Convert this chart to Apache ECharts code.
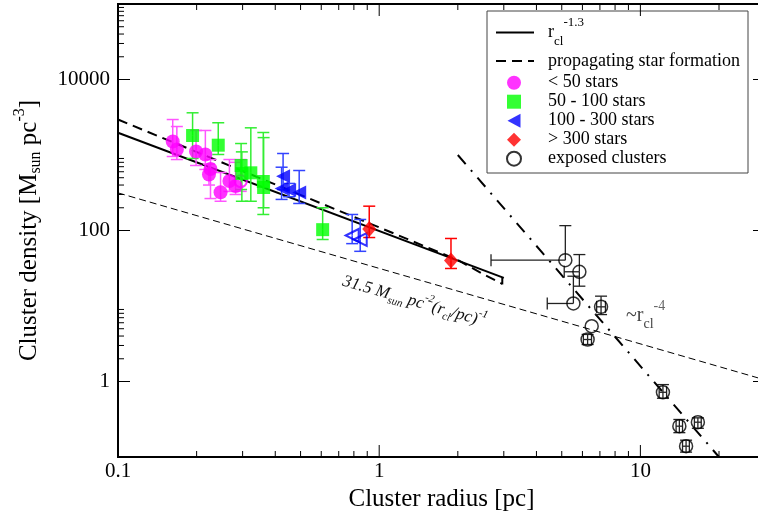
<!DOCTYPE html>
<html><head><meta charset="utf-8">
<script src="https://cdn.jsdelivr.net/npm/echarts@6/dist/echarts.min.js"></script>
<style>html,body{margin:0;padding:0;background:#fff}#c{width:758px;height:513px}</style>
</head><body><div id="c"></div>
<script>
// ---------------- data ----------------
const xRange = [0.1, 30];
const yRange = [0.1, 100000];
const xTickLabels = [0.1, 1, 10];
const yTickLabels = [1, 100, 10000];
const xMinorTicks = [0.2,0.3,0.4,0.5,0.6,0.7,0.8,0.9,2,3,4,5,6,7,8,9,20,30];
const yMinorTicks = [2,3,4,5,6,7,8,9,200,300,400,500,600,700,800,900,20000,30000,40000,50000,60000,70000,80000,90000];

// [radius pc, density, density low, density high]
const starsLt50 = [
  [0.162,1510,955,2950],[0.168,1183,871,2383],[0.199,1112,726,2113],[0.216,1016,643,2113],
  [0.226,653,265,871],[0.223,552,400,760],[0.247,321,244,586],[0.267,453,329,871],[0.282,388,300,800]
];
const starsLt50Open = [[0.295,450,330,871]];
const stars50to100 = [
  [0.193,1812,900,3622],[0.242,1349,1016,2673],[0.296,726,349,1419],[0.298,569,244,1100],
  [0.3225,581,244,2291],[0.36,446,163,1986],[0.361,371,200,1700],[0.6075,102.6,76,200]
];
const stars100to300 = [[0.4286,524,349,1047],[0.423,360,258,689],[0.452,344,280,420],[0.494,318,228,623]];
const stars100to300Open = [[0.788,85.9,67,163],[0.846,76,53,140]];
const starsGt300 = [[0.916,105,80.7,210],[1.883,40,31.4,78.4]];
// [radius, density, radius low, radius high, density low, density high]
const exposedClusters = [
  [5.16,40.5,2.68,5.16,40.5,116],[5.84,28.4,5.11,5.84,18.3,48],[5.54,10.8,4.4,5.54,10.8,24.8],
  [7.07,9.75,6.8,7.35,7.7,13.5],[6.51,5.4,6.51,6.51,5.4,5.4],[6.28,3.6,6.05,6.5,3.09,4.2],
  [12.2,0.72,11.8,12.6,0.6,0.91],[14.1,0.256,13.7,14.5,0.21,0.314],[16.6,0.289,16.1,17.1,0.24,0.33],
  [14.96,0.139,14.5,15.4,0.116,0.167]
];
const fitPowerLaw = [[0.1,1968],[3.0,23.6]];
const propagatingSF = [[0.1,2950],[0.3,614],[1.0,110],[2.0,40.6],[2.5,26.5],[2.96,19.6]];
const propagatingEnd = [[2.96,19.3],[2.96,24]];
const surfaceLine = [[0.1,315],[30,1.05]];
const steepLine = [[2.0,1000],[20,0.1]];

// ---------------- chart ----------------
const SERIF = "'Liberation Serif','Times New Roman',serif";
const chart = echarts.init(document.getElementById('c'), null, {renderer:'canvas', width:758, height:513});

function near(v, list){ return list.some(t => Math.abs(Math.log10(v) - Math.log10(t)) < 1e-4); }
function seg(x1,y1,x2,y2,color,lw){ return {type:'line', shape:{x1,y1,x2,y2}, style:{stroke:color, lineWidth:lw}}; }

function errBars(color, cap, lw){
  return function(params, api){
    const x=api.value(0), y=api.value(1), lo=api.value(2), hi=api.value(3);
    const c=api.coord([x,y]), pl=api.coord([x,lo]), ph=api.coord([x,hi]);
    const ch=[];
    if (hi>y){ ch.push(seg(c[0],c[1],c[0],ph[1],color,lw)); ch.push(seg(c[0]-cap,ph[1],c[0]+cap,ph[1],color,lw)); }
    if (lo<y){ ch.push(seg(c[0],c[1],c[0],pl[1],color,lw)); ch.push(seg(c[0]-cap,pl[1],c[0]+cap,pl[1],color,lw)); }
    return {type:'group', children:ch};
  };
}
function errBarsXY(color, cap, lw){
  return function(params, api){
    const x=api.value(0), y=api.value(1), xl=api.value(2), xh=api.value(3), lo=api.value(4), hi=api.value(5);
    const c=api.coord([x,y]);
    const ch=[];
    if (hi>y){ const p=api.coord([x,hi]); ch.push(seg(c[0],c[1],c[0],p[1],color,lw)); ch.push(seg(c[0]-cap,p[1],c[0]+cap,p[1],color,lw)); }
    if (lo<y){ const p=api.coord([x,lo]); ch.push(seg(c[0],c[1],c[0],p[1],color,lw)); ch.push(seg(c[0]-cap,p[1],c[0]+cap,p[1],color,lw)); }
    if (xl<x){ const p=api.coord([xl,y]); ch.push(seg(c[0],c[1],p[0],c[1],color,lw)); ch.push(seg(p[0],c[1]-cap,p[0],c[1]+cap,color,lw)); }
    if (xh>x){ const p=api.coord([xh,y]); ch.push(seg(c[0],c[1],p[0],c[1],color,lw)); ch.push(seg(p[0],c[1]-cap,p[0],c[1]+cap,color,lw)); }
    return {type:'group', children:ch};
  };
}
const xTickData = xTickLabels.map(v=>[v, yRange[0], 12]).concat(xMinorTicks.map(v=>[v, yRange[0], 6]));
const yTickData = yTickLabels.map(v=>[xRange[0], v, 12]).concat(yMinorTicks.map(v=>[xRange[0], v, 6]));
function xTickRender(params, api){
  const v=api.value(0), len=api.value(2);
  const b=api.coord([v, yRange[0]]), t=api.coord([v, yRange[1]]);
  return {type:'group', children:[seg(b[0],b[1],b[0],b[1]-len,'#000',1), seg(t[0],t[1],t[0],t[1]+len,'#000',1)]};
}
function yTickRender(params, api){
  const v=api.value(1), len=api.value(2);
  const l=api.coord([xRange[0], v]), r=api.coord([xRange[1], v]);
  return {type:'group', children:[seg(l[0],l[1],l[0]+len,l[1],'#000',1), seg(r[0],r[1],r[0]-len,r[1],'#000',1)]};
}

const legendCommon = {orient:'vertical', padding:0, selectedMode:false, itemWidth:38, itemHeight:14,
  itemStyle:{opacity:0},
  textStyle:{fontFamily:SERIF, fontSize:18, color:'#000', lineHeight:14, padding:[0,0,0,9]}};

const option = {
  animation:false,
  backgroundColor:'#fff',
  grid:{left:118, right:-7, top:4, bottom:56, show:true, borderColor:'#000', borderWidth:2, containLabel:false, outerBoundsMode:'none'},
  xAxis:{type:'log', logBase:10, min:xRange[0], max:xRange[1],
    axisLine:{show:false}, axisTick:{show:false}, splitLine:{show:false}, minorTick:{show:false},
    axisLabel:{margin:4, fontFamily:SERIF, fontSize:21, color:'#000', showMaxLabel:false,
      formatter:v=> near(v,xTickLabels) ? String(xTickLabels.find(t=>near(v,[t]))) : ''},
    name:'Cluster radius [pc]', nameLocation:'middle', nameGap:27,
    nameTextStyle:{fontFamily:SERIF, fontSize:25, color:'#000'}},
  yAxis:{type:'log', logBase:10, min:yRange[0], max:yRange[1],
    axisLine:{show:false}, axisTick:{show:false}, splitLine:{show:false}, minorTick:{show:false},
    axisLabel:{margin:8, fontFamily:SERIF, fontSize:21, color:'#000',
      formatter:v=> near(v,yTickLabels) ? String(yTickLabels.find(t=>near(v,[t]))) : ''},
    name:'{a|Cluster density [M}{sub|sun}{a| pc}{sup|-3}{a|]}', nameLocation:'middle', nameGap:72, nameRotate:90,
    nameTextStyle:{fontFamily:SERIF, fontSize:25, color:'#000',
      rich:{a:{fontFamily:SERIF, fontSize:25, color:'#000'},
            sub:{fontFamily:SERIF, fontSize:16, color:'#000', padding:[14,0,0,0]},
            sup:{fontFamily:SERIF, fontSize:16, color:'#000', padding:[0,0,18,0]}}}},
  legend:[
    Object.assign({}, legendCommon, {left:495, top:16, data:['r_cl^-1.3'],
      formatter:()=>'{r|r}{sub|cl}{sup|-1.3}',
      textStyle:{fontFamily:SERIF, fontSize:18, color:'#000', padding:[0,0,0,9],
        rich:{r:{fontFamily:SERIF, fontSize:18, color:'#000'},
              sub:{fontFamily:SERIF, fontSize:13, color:'#000', padding:[18,0,0,0]},
              sup:{fontFamily:SERIF, fontSize:13, color:'#000', padding:[0,0,20,0]}}}}),
    Object.assign({}, legendCommon, {left:495, top:52, data:['propagating star formation']}),
    {orient:'vertical', padding:0, selectedMode:false, itemWidth:14, itemHeight:14, symbolKeepAspect:true,
      left:506, top:73.7, itemGap:1,
      data:['< 50 stars','50 - 100 stars',
        {name:'100 - 300 stars', icon:'path://M0,7L13,0L13,14Z'},
        '> 300 stars',
        {name:'exposed clusters', itemStyle:{borderWidth:2, borderColor:'#000'}}],
      textStyle:{fontFamily:SERIF, fontSize:18, color:'#000', lineHeight:14, padding:[0,0,0,22]}}
  ],
  graphic:[
    {type:'rect', shape:{x:487, y:11, width:261, height:162}, style:{fill:'none', stroke:'#444', lineWidth:1}, z:1},
    {type:'text', x:343, y:281, rotation:-0.281, z:10,
      style:{text:'{t|31.5 M}{sub|sun}{t| pc}{sup|-2}{t|(r}{sub|cl}{t|/pc)}{sup|-1}', align:'left', verticalAlign:'middle',
        rich:{t:{fontFamily:SERIF, fontSize:17, fontStyle:'italic', fill:'#111'},
              sub:{fontFamily:SERIF, fontSize:11, fontStyle:'italic', fill:'#111', padding:[12,0,0,0]},
              sup:{fontFamily:SERIF, fontSize:11, fontStyle:'italic', fill:'#111', padding:[0,0,14,0]}}}},
    {type:'text', x:626, y:316, z:10,
      style:{text:'{t|~r}{sub|cl}{sup|-4}', align:'left', verticalAlign:'middle',
        rich:{t:{fontFamily:SERIF, fontSize:20, fill:'#444'},
              sub:{fontFamily:SERIF, fontSize:14, fill:'#444', padding:[16,0,0,0]},
              sup:{fontFamily:SERIF, fontSize:14, fill:'#666', padding:[0,0,20,0]}}}}
  ],
  series:[
    {type:'custom', name:'xticks', renderItem:xTickRender, data:xTickData, encode:{x:0,y:1}, silent:true, z:1},
    {type:'custom', name:'yticks', renderItem:yTickRender, data:yTickData, encode:{x:0,y:1}, silent:true, z:1},
    {type:'line', name:'thin', data:surfaceLine, symbol:'none', lineStyle:{color:'#000', width:1, type:[7,4]}, z:2, silent:true},
    {type:'line', name:'steep', data:steepLine, symbol:'none', lineStyle:{color:'#000', width:2, type:[12,8,2,8]}, z:2, silent:true},
    {type:'line', name:'r_cl^-1.3', data:fitPowerLaw, symbol:'none', lineStyle:{color:'#000', width:2, type:'solid'}, itemStyle:{color:'#000'}, z:2},
    {type:'line', name:'propagating star formation', data:propagatingSF, symbol:'none', lineStyle:{color:'#000', width:2, type:[10,6]}, itemStyle:{color:'#000'}, z:2},
    {type:'line', name:'propEnd', data:propagatingEnd, symbol:'none', lineStyle:{color:'#000', width:2}, z:2, silent:true},
    {type:'custom', name:'errLt50', renderItem:errBars('#ff55ff',6,1.5), data:starsLt50.concat(starsLt50Open), encode:{x:0,y:1}, z:3, silent:true},
    {type:'custom', name:'err50', renderItem:errBars('#33ee33',6,1.5), data:stars50to100, encode:{x:0,y:1}, z:3, silent:true},
    {type:'custom', name:'err100', renderItem:errBars('#3344ff',6,1.5), data:stars100to300.concat(stars100to300Open), encode:{x:0,y:1}, z:3, silent:true},
    {type:'custom', name:'err300', renderItem:errBars('#ff0000',6,1.5), data:starsGt300, encode:{x:0,y:1}, z:3, silent:true},
    {type:'custom', name:'errExp', renderItem:errBarsXY('#222',6,1.3), data:exposedClusters, encode:{x:0,y:1}, z:3, silent:true},
    {type:'scatter', name:'< 50 stars', data:starsLt50.map(d=>[d[0],d[1]]), symbol:'circle', symbolSize:14, itemStyle:{color:'#ff00ff'}, z:4},
    {type:'scatter', name:'lt50open', data:starsLt50Open.map(d=>[d[0],d[1]]), symbol:'circle', symbolSize:12, itemStyle:{color:'rgba(0,0,0,0)', borderColor:'#ff00ff', borderWidth:2}, z:4},
    {type:'scatter', name:'50 - 100 stars', data:stars50to100.map(d=>[d[0],d[1]]), symbol:'rect', symbolSize:13, itemStyle:{color:'#00ff00'}, z:4},
    {type:'scatter', name:'100 - 300 stars', data:stars100to300.map(d=>[d[0],d[1]]), symbol:'triangle', symbolRotate:90, symbolSize:14, itemStyle:{color:'#0000ff'}, z:4},
    {type:'scatter', name:'open100', data:stars100to300Open.map(d=>[d[0],d[1]]), symbol:'triangle', symbolRotate:90, symbolSize:13, itemStyle:{color:'rgba(0,0,0,0)', borderColor:'#0000ff', borderWidth:2}, z:4},
    {type:'scatter', name:'> 300 stars', data:starsGt300.map(d=>[d[0],d[1]]), symbol:'diamond', symbolSize:[14,16], itemStyle:{color:'#ff0000'}, z:4},
    {type:'scatter', name:'exposed clusters', data:exposedClusters.map(d=>[d[0],d[1]]), symbol:'circle', symbolSize:13, itemStyle:{color:'rgba(0,0,0,0)', borderColor:'#000', borderWidth:1.5}, z:4}
  ]
};
chart.setOption(option);
</script></body></html>
